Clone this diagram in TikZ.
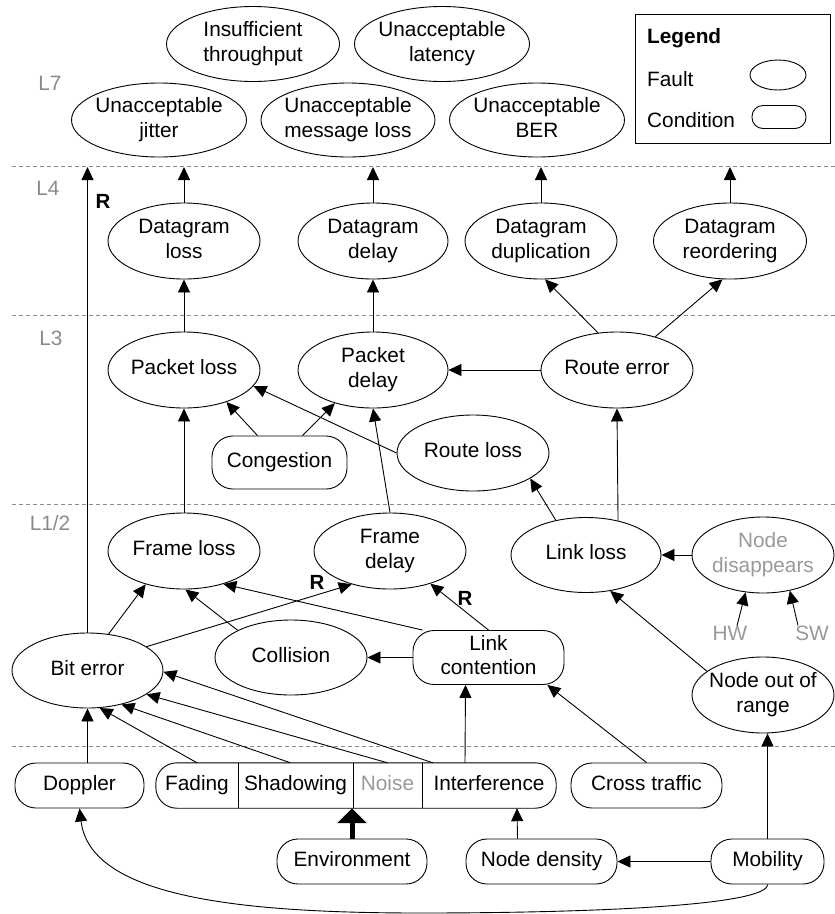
\documentclass[tikz,border=0pt]{standalone}
\usepackage{fontspec}
\setmainfont{Liberation Sans}
\usetikzlibrary{shapes.geometric,arrows.meta}
\newcommand\lbl[1]{\makebox[0pt]{\raisebox{-2.5pt}{\begin{tabular}{@{}c@{}}#1\end{tabular}}}}
\definecolor{lgray}{HTML}{999999}
\definecolor{dgray}{HTML}{8A8A8A}
\begin{document}
\begin{tikzpicture}[x=1pt,y=-1pt,
  font=\fontsize{20.8}{24.5}\selectfont,
  fault/.style={ellipse, draw, line width=0.9pt, inner sep=0pt, minimum width=152pt, minimum height=76pt},
  cond/.style={rectangle, draw, line width=0.9pt, rounded corners=21pt, inner sep=0pt, minimum height=45pt},
  part/.style={rectangle, draw=none, inner sep=0pt, minimum height=45pt},
  arr/.style={-{Triangle[length=13pt,width=12pt]}, line width=0.9pt},
  layer/.style={text=dgray},
  divider/.style={draw=dgray, dash pattern=on 4pt off 3pt, line width=0.9pt},
  rlab/.style={font=\fontsize{20.5}{24}\selectfont\bfseries, inner sep=0pt},
  txt/.style={inner sep=0pt}]
\useasboundingbox (0,0) rectangle (835,914);

% layer dividers
\draw[divider] (12,166) -- (835,166);
\draw[divider] (12,315) -- (835,315);
\draw[divider] (12,504) -- (835,504);
\draw[divider] (12,746) -- (835,746);

% layer labels
\node[layer] (l7) at (50,83) {L7};
\node[layer] (l4) at (48,188) {L4};
\node[layer] (l3) at (51,338) {L3};
\node[layer] (l12) at (50,523) {L1/2};

% L7
\node[fault, minimum width=173pt, minimum height=75pt] (thr) at (253,44) {\lbl{Insufficient\\throughput}};
\node[fault, minimum width=175pt, minimum height=75pt] (lat) at (442,44) {\lbl{Unacceptable\\latency}};
\node[fault, minimum width=175pt, minimum height=74pt] (jit) at (159,120) {\lbl{Unacceptable\\jitter}};
\node[fault, minimum width=174pt, minimum height=74pt] (msl) at (348,120) {\lbl{Unacceptable\\message loss}};
\node[fault, minimum width=175pt, minimum height=74pt] (ber) at (537,120) {\lbl{Unacceptable\\BER}};

% legend
\node[draw, line width=0.9pt, minimum width=195pt, minimum height=129pt, inner sep=0pt] (leg) at (732.5,78.5) {};
\node[txt, anchor=west, font=\fontsize{20.8}{24.5}\selectfont\bfseries] (legt) at (647,38) {Legend};
\node[txt, anchor=west] (legf) at (647,79) {Fault};
\node[txt, anchor=west] (legc) at (647,120) {Condition};
\node[ellipse, draw, line width=0.9pt, minimum width=56pt, minimum height=30pt, inner sep=0pt] (legfe) at (778,75) {};
\node[cond, minimum width=54pt, minimum height=23pt, rounded corners=11pt] (legce) at (779,117) {};

% L4
\node[fault] (dl) at (184,241) {\lbl{Datagram\\loss}};
\node[fault, minimum width=150pt] (dd) at (373,241) {\lbl{Datagram\\delay}};
\node[fault] (ddup) at (541,241) {\lbl{Datagram\\duplication}};
\node[fault, minimum width=153pt] (dreo) at (730,241) {\lbl{Datagram\\reordering}};

% L3
\node[fault] (pl) at (184,370) {\lbl{Packet loss}};
\node[fault, minimum width=150pt] (pd) at (373,370) {\lbl{Packet\\delay}};
\node[fault] (re) at (617,370) {\lbl{Route error}};
\node[cond, minimum width=135pt, minimum height=53pt] (cg) at (279.5,462.5) {\lbl{Congestion}};
\node[fault] (rl) at (473,453) {\lbl{Route loss}};

% L1/2
\node[fault] (fl) at (184,551) {\lbl{Frame loss}};
\node[fault] (fd) at (390,551) {\lbl{Frame\\delay}};
\node[fault, minimum width=150pt, minimum height=75pt] (ll) at (586,555) {\lbl{Link loss}};
\node[fault, minimum width=142pt] (ndis) at (763,555) {\lbl{\color{lgray}Node\\\color{lgray}disappears}};
\node[txt, text=lgray] (hw) at (730,633) {HW};
\node[txt, text=lgray] (sw) at (812,633) {SW};
\node[fault, minimum width=151pt, minimum height=75pt] (be) at (87.5,670.5) {\lbl{Bit error}};
\node[fault, minimum height=75pt] (co) at (291,657.5) {\lbl{Collision}};
\node[cond, minimum width=151pt, minimum height=54pt] (lc) at (488.5,657.5) {\lbl{Link\\contention}};
\node[fault, minimum width=142pt] (noor) at (763,695) {\lbl{Node out of\\range}};

% bottom conditions
\node[cond, minimum width=129pt] (dop) at (79.5,785.5) {\lbl{Doppler}};
\node[part, minimum width=82pt] (fad) at (197,785.5) {\lbl{Fading}};
\node[part, minimum width=115pt] (sha) at (295.5,785.5) {\lbl{Shadowing}};
\node[part, minimum width=69pt, text=lgray] (noi) at (387.5,785.5) {\lbl{Noise}};
\node[part, minimum width=134pt] (intf) at (489,785.5) {\lbl{Interference}};
\draw[line width=0.9pt, rounded corners=21pt] (fad.north west) rectangle (intf.south east);
\draw[line width=0.9pt] (fad.north east) -- (fad.south east);
\draw[line width=0.9pt] (sha.north east) -- (sha.south east);
\draw[line width=0.9pt] (noi.north east) -- (noi.south east);
\node[cond, minimum width=151pt] (ct) at (646.5,785.5) {\lbl{Cross traffic}};
\node[cond, minimum width=150pt] (env) at (352,861.5) {\lbl{Environment}};
\node[cond, minimum width=151pt] (nd) at (541.5,861.5) {\lbl{Node density}};
\node[cond, minimum width=113pt] (mob) at (767.5,861.5) {\lbl{Mobility}};

% connectors to L7 line
\coordinate (top4) at (0,167);
\draw[arr] (dl.north) -- (dl.north |- top4);
\draw[arr] (dd.north) -- (dd.north |- top4);
\draw[arr] (ddup.north) -- (ddup.north |- top4);
\draw[arr] (dreo.north) -- (dreo.north |- top4);
\coordinate (rtop) at (87.5,167);
\draw[arr] (be.north) -- (rtop);
\node[rlab] (r1) at (103,201) {R};

% L3 -> L4
\draw[arr] (pl.north) -- (dl.south);
\draw[arr] (pd.north) -- (dd.south);
\draw[arr] (re.117.8) -- (ddup.-84);
\draw[arr] (re.41) -- (dreo.-101);
\draw[arr] (re.west) -- (pd.east);
\draw[arr] (ll.47.6) -- (re.south);
\draw[arr] ([xshift=-22pt]cg.north) -- (pl.-37.5);
\draw[arr] ([xshift=23pt]cg.north) -- (pd.-139);
\draw[arr] (rl.west) -- (pl.-13.5);
\draw[arr] (fd.north) -- (pd.south);
\draw[arr] (fl.north) -- (pl.south);

% L1/2
\draw[arr] (ll.131) -- (rl.-24);
\draw[arr] (ndis.west) -- (ll.east);
\draw[arr] ([xshift=7pt]hw.north) -- (ndis.-115);
\draw[arr] ([xshift=-14pt]sw.north) -- (ndis.-53);
\draw[arr] (noor.157) -- (ll.-56);
\draw[arr] (mob.north) -- (noor.south -| mob.north);
\draw[arr] (be.60) -- (fl.-139);
\draw[arr] (be.22.5) -- (fd.-139.6);
\node[rlab] (r2) at (317,582) {R};
\draw[arr] (co.153) -- (fl.-88);
\draw[arr] (lc.west) -- (co.east);
\draw[arr] (lc.north) -- (fd.-39);
\node[rlab] (r3) at (465,598) {R};
\draw[arr] ([xshift=10pt]lc.north west) -- (fl.-40.7);
\draw[arr] ([xshift=-24pt]intf.north) -- ([xshift=-23pt]lc.south);
\draw[arr] (ct.north) -- (lc.-25);

% into bit error
\draw[arr] ([xshift=8pt]dop.north) -- (be.south);
\draw[arr] (fad.north) -- (be.-72);
\draw[arr] ([xshift=-5pt]sha.north) -- (be.-45);
\draw[arr] (noi.north) -- (be.-22.6);
\draw[arr] ([xshift=11pt]intf.north west) -- (be.-1.5);

% bottom
\draw[line width=5pt, -{Triangle[length=15pt,width=29pt]}] (env.north) -- (env.north |- sha.south);
\draw[arr] ([xshift=-24pt]nd.north) -- ([xshift=28pt]intf.south);
\draw[arr] (mob.west) -- (nd.east);
\draw[arr] (mob.south) .. controls (768,905) and (600,913) .. (420,913) .. controls (230,913) and (90,895) .. (dop.south);
\end{tikzpicture}
\end{document}
